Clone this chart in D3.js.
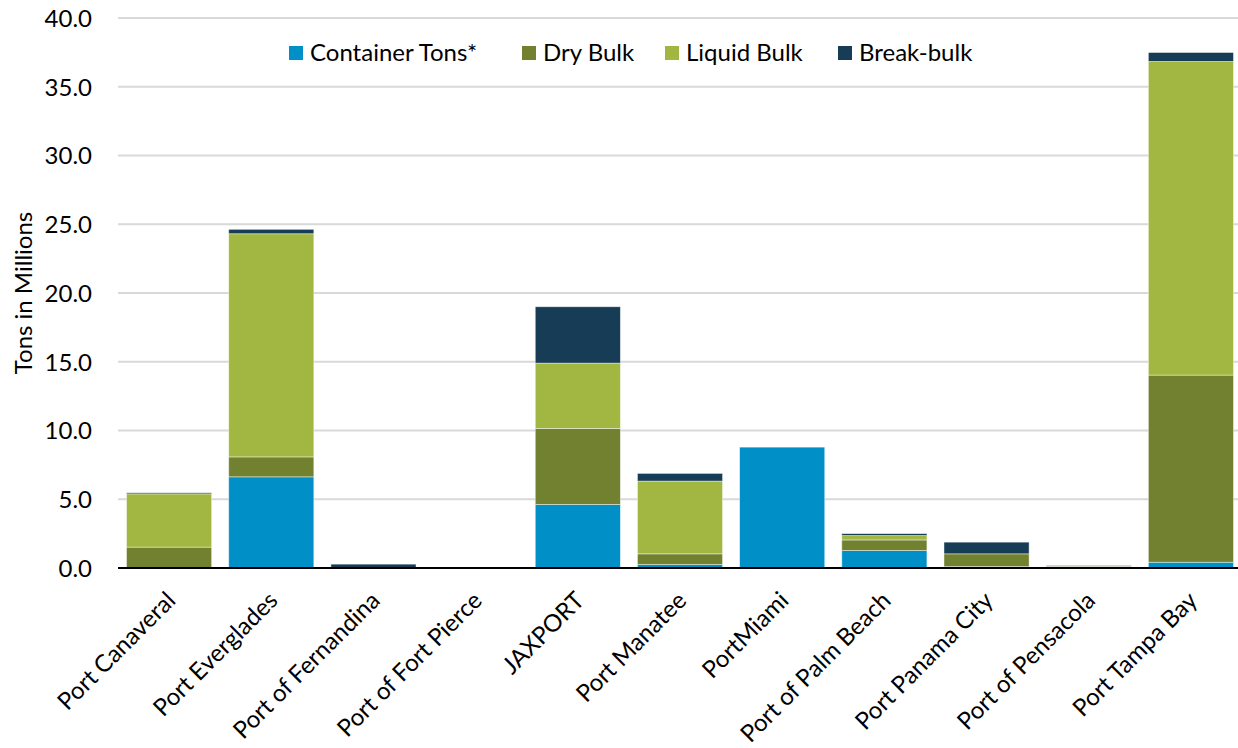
<!DOCTYPE html>
<html><head><meta charset="utf-8">
<script src="https://cdn.jsdelivr.net/npm/d3@7"></script>
<style>html,body{margin:0;padding:0;background:#fff;overflow:hidden}</style>
</head><body>
<svg id="chart" width="1238" height="748"></svg>
<script>
const categories = ["Port Canaveral","Port Everglades","Port of Fernandina","Port of Fort Pierce","JAXPORT","Port Manatee","PortMiami","Port of Palm Beach","Port Panama City","Port of Pensacola","Port Tampa Bay"];
const seriesNames = ["Container Tons*","Dry Bulk","Liquid Bulk","Break-bulk"];
const containerTons = [0, 6.63, 0, 0, 4.62, 0.25, 8.79, 1.27, 0.10, 0, 0.42];
const dryBulk       = [1.52, 1.45, 0, 0, 5.53, 0.78, 0, 0.77, 0.93, 0.10, 13.61];
const liquidBulk    = [3.87, 16.23, 0, 0, 4.75, 5.29, 0, 0.32, 0, 0.03, 22.81];
const breakBulk     = [0.08, 0.32, 0.28, 0, 4.10, 0.56, 0, 0.14, 0.85, 0.05, 0.65];
const yTicks = [0,5,10,15,20,25,30,35,40];
const colors = ["#008FC7","#71812F","#A2B642","#173D56"];

const font = "Lato, 'Open Sans', sans-serif";
const svg = d3.select("#chart");
const x = d3.scaleBand().domain(categories).range([118, 1242]).paddingInner(0.167).paddingOuter(0.0835);
const y = d3.scaleLinear().domain([0, 40]).range([568, 18]);

const table = categories.map((c, i) => ({cat: c, "Container Tons*": containerTons[i], "Dry Bulk": dryBulk[i], "Liquid Bulk": liquidBulk[i], "Break-bulk": breakBulk[i]}));
const stacked = d3.stack().keys(seriesNames)(table);

// gridlines
svg.append("g").selectAll("line").data(yTicks.filter(t => t > 0)).join("line")
  .attr("x1", 118).attr("x2", 1238)
  .attr("y1", d => y(d)).attr("y2", d => y(d))
  .attr("stroke", "#D9D9D9").attr("stroke-width", 2);

// y axis labels
const yAxis = d3.axisLeft(y).tickValues(yTicks).tickFormat(d3.format(".1f")).tickSize(0).tickPadding(0);
const ya = svg.append("g").attr("transform", "translate(92,0)").call(yAxis);
ya.select(".domain").remove();
ya.selectAll("text").attr("font-family", font).attr("font-size", 24).attr("fill", "#000").attr("dy", "0.35em");

// bars
svg.append("g").selectAll("g").data(stacked).join("g")
  .attr("fill", (d, i) => colors[i])
  .selectAll("rect").data(d => d).join("rect")
  .attr("x", d => x(d.data.cat))
  .attr("width", x.bandwidth())
  .attr("y", d => y(d[1]))
  .attr("height", d => Math.max(0, y(d[0]) - y(d[1])))
  .attr("stroke", "rgba(255,255,255,0.55)").attr("stroke-width", 0.8);

// x axis line
svg.append("line").attr("x1", 118).attr("x2", 1238).attr("y1", y(0)).attr("y2", y(0))
  .attr("stroke", "#000").attr("stroke-width", 2);

// x labels
const xAxis = d3.axisBottom(x).tickSize(0).tickPadding(0);
const xa = svg.append("g").attr("transform", `translate(0,${y(0)})`).call(xAxis);
xa.select(".domain").remove();
xa.selectAll("text")
  .attr("font-family", font).attr("font-size", 24).attr("fill", "#000")
  .attr("text-anchor", "end")
  .attr("transform", "translate(2,28) rotate(-45)")
  .attr("x", 0).attr("y", 0).attr("dy", "0.35em");

// y title
svg.append("text").attr("transform", "translate(24,293) rotate(-90)")
  .attr("text-anchor", "middle").attr("dy", "0.35em")
  .attr("font-family", font).attr("font-size", 24).attr("fill", "#000")
  .text("Tons in Millions");

// legend
const legendX = [289, 522, 665, 838];
const lg = svg.append("g").selectAll("g").data(seriesNames).join("g")
  .attr("transform", (d, i) => `translate(${legendX[i]},53)`);
lg.append("rect").attr("x", 0).attr("y", -7).attr("width", 14).attr("height", 14).attr("fill", (d, i) => colors[i]);
lg.append("text").attr("x", 21).attr("dy", "0.35em")
  .attr("font-family", font).attr("font-size", 24).attr("fill", "#000").text(d => d);
</script>
</body></html>
